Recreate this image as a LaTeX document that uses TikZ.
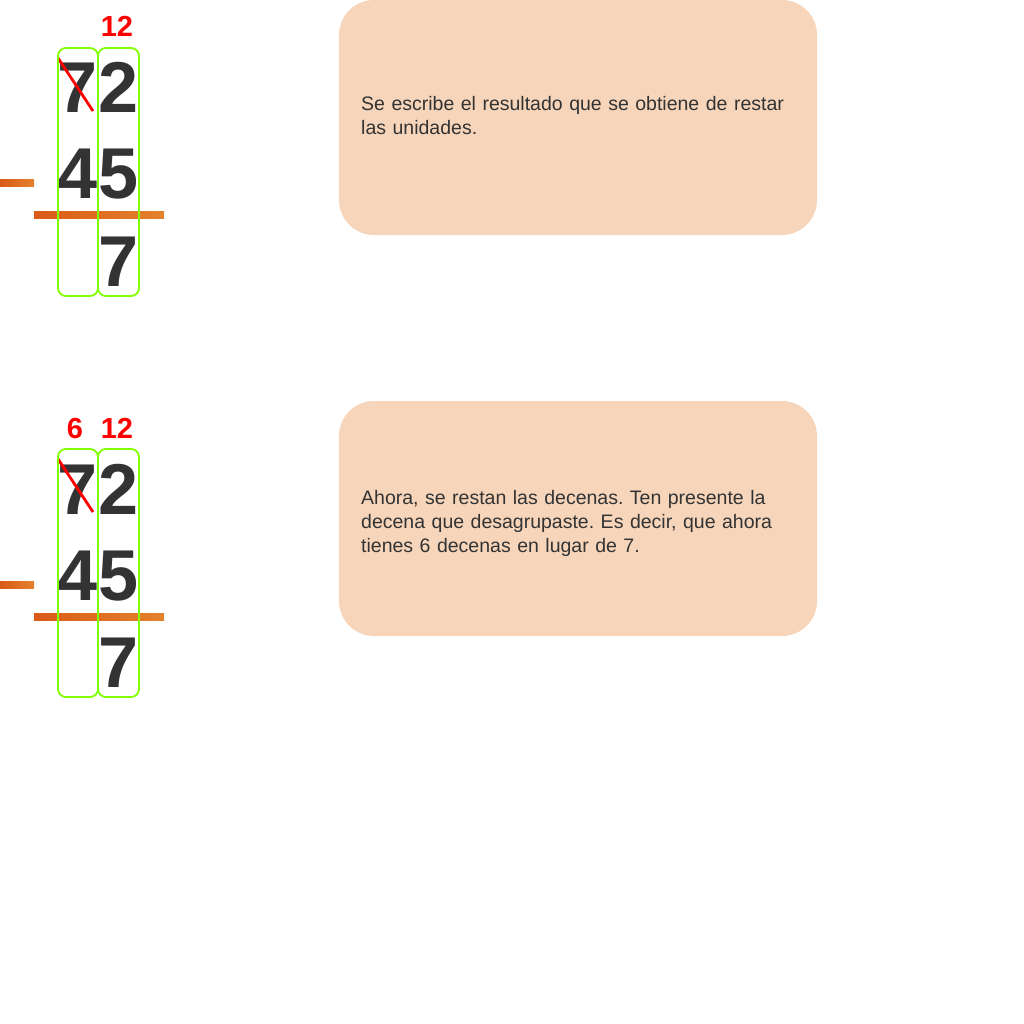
\documentclass[tikz,border=0pt]{standalone}
\usepackage{fontspec}
\setmainfont{Liberation Sans}
\definecolor{boxfill}{HTML}{F6D5BA}
\definecolor{ink}{HTML}{333333}
\definecolor{colgreen}{HTML}{80FF00}
\definecolor{orangeA}{HTML}{DA5A17}
\definecolor{orangeB}{HTML}{E3822E}
\tikzset{
  digit/.style={anchor=base, inner sep=0pt, text=ink, font=\fontsize{72}{72}\selectfont\bfseries},
  carry/.style={anchor=base, inner sep=0pt, text=red, font=\fontsize{29}{29}\selectfont\bfseries},
  colbox/.style={draw=colgreen, line width=1.8pt, rounded corners=8pt},
  notebox/.style={fill=boxfill, rounded corners=35pt},
  notetext/.style={anchor=base west, inner sep=0pt, text=ink, align=left, text width=460pt, font=\fontsize{19.5}{24}\selectfont\frenchspacing},
  rule/.style={left color=orangeA, right color=orangeB},
  strike/.style={draw=red, line width=2.8pt}
}
\begin{document}
\begin{tikzpicture}[x=1pt,y=-1pt]
\useasboundingbox (0,0) rectangle (1024,1024);
% ---------- panel 1 ----------
\begin{scope}
\fill[notebox] (339,0) rectangle (817,235);
\node[notetext] (t1) at (361,111) {Se escribe el resultado que se obtiene de restar\\las unidades.};
\shade[rule] (0,180) rectangle (34,187);
\shade[rule] (34,212) rectangle (164,219);
\node[digit] (a7) at (78,113) {7};
\node[digit] (a2) at (119,113) {2};
\node[digit] (b4) at (78,199) {4};
\node[digit] (b5) at (119,199) {5};
\node[digit] (r7) at (119,286) {7};
\node[carry] (c12) at (117,37) {12};
\coordinate (s1) at (58,58);
\coordinate (s2) at (93,111);
\draw[strike] (s1) -- (s2);
\draw[colbox] (58,48) rectangle (98,296);
\draw[colbox] (98,48) rectangle (139,296);
\end{scope}
% ---------- panel 2 ----------
\begin{scope}[yshift=-401pt]
\fill[notebox] (339,0) rectangle (817,235);
\node[notetext] (t2) at (361,103) {Ahora, se restan las decenas. Ten presente la\\decena que desagrupaste. Es decir, que ahora\\tienes 6 decenas en lugar de 7.};
\shade[rule] (0,180) rectangle (34,187);
\shade[rule] (34,212) rectangle (164,219);
\node[digit] (d7) at (78,113) {7};
\node[digit] (d2) at (119,113) {2};
\node[digit] (e4) at (78,199) {4};
\node[digit] (e5) at (119,199) {5};
\node[digit] (q7) at (119,286) {7};
\node[carry] (c6) at (75,37) {6};
\node[carry] (c12b) at (117,37) {12};
\coordinate (u1) at (58,58);
\coordinate (u2) at (93,111);
\draw[strike] (u1) -- (u2);
\draw[colbox] (58,48) rectangle (98,296);
\draw[colbox] (98,48) rectangle (139,296);
\end{scope}
\end{tikzpicture}
\end{document}
